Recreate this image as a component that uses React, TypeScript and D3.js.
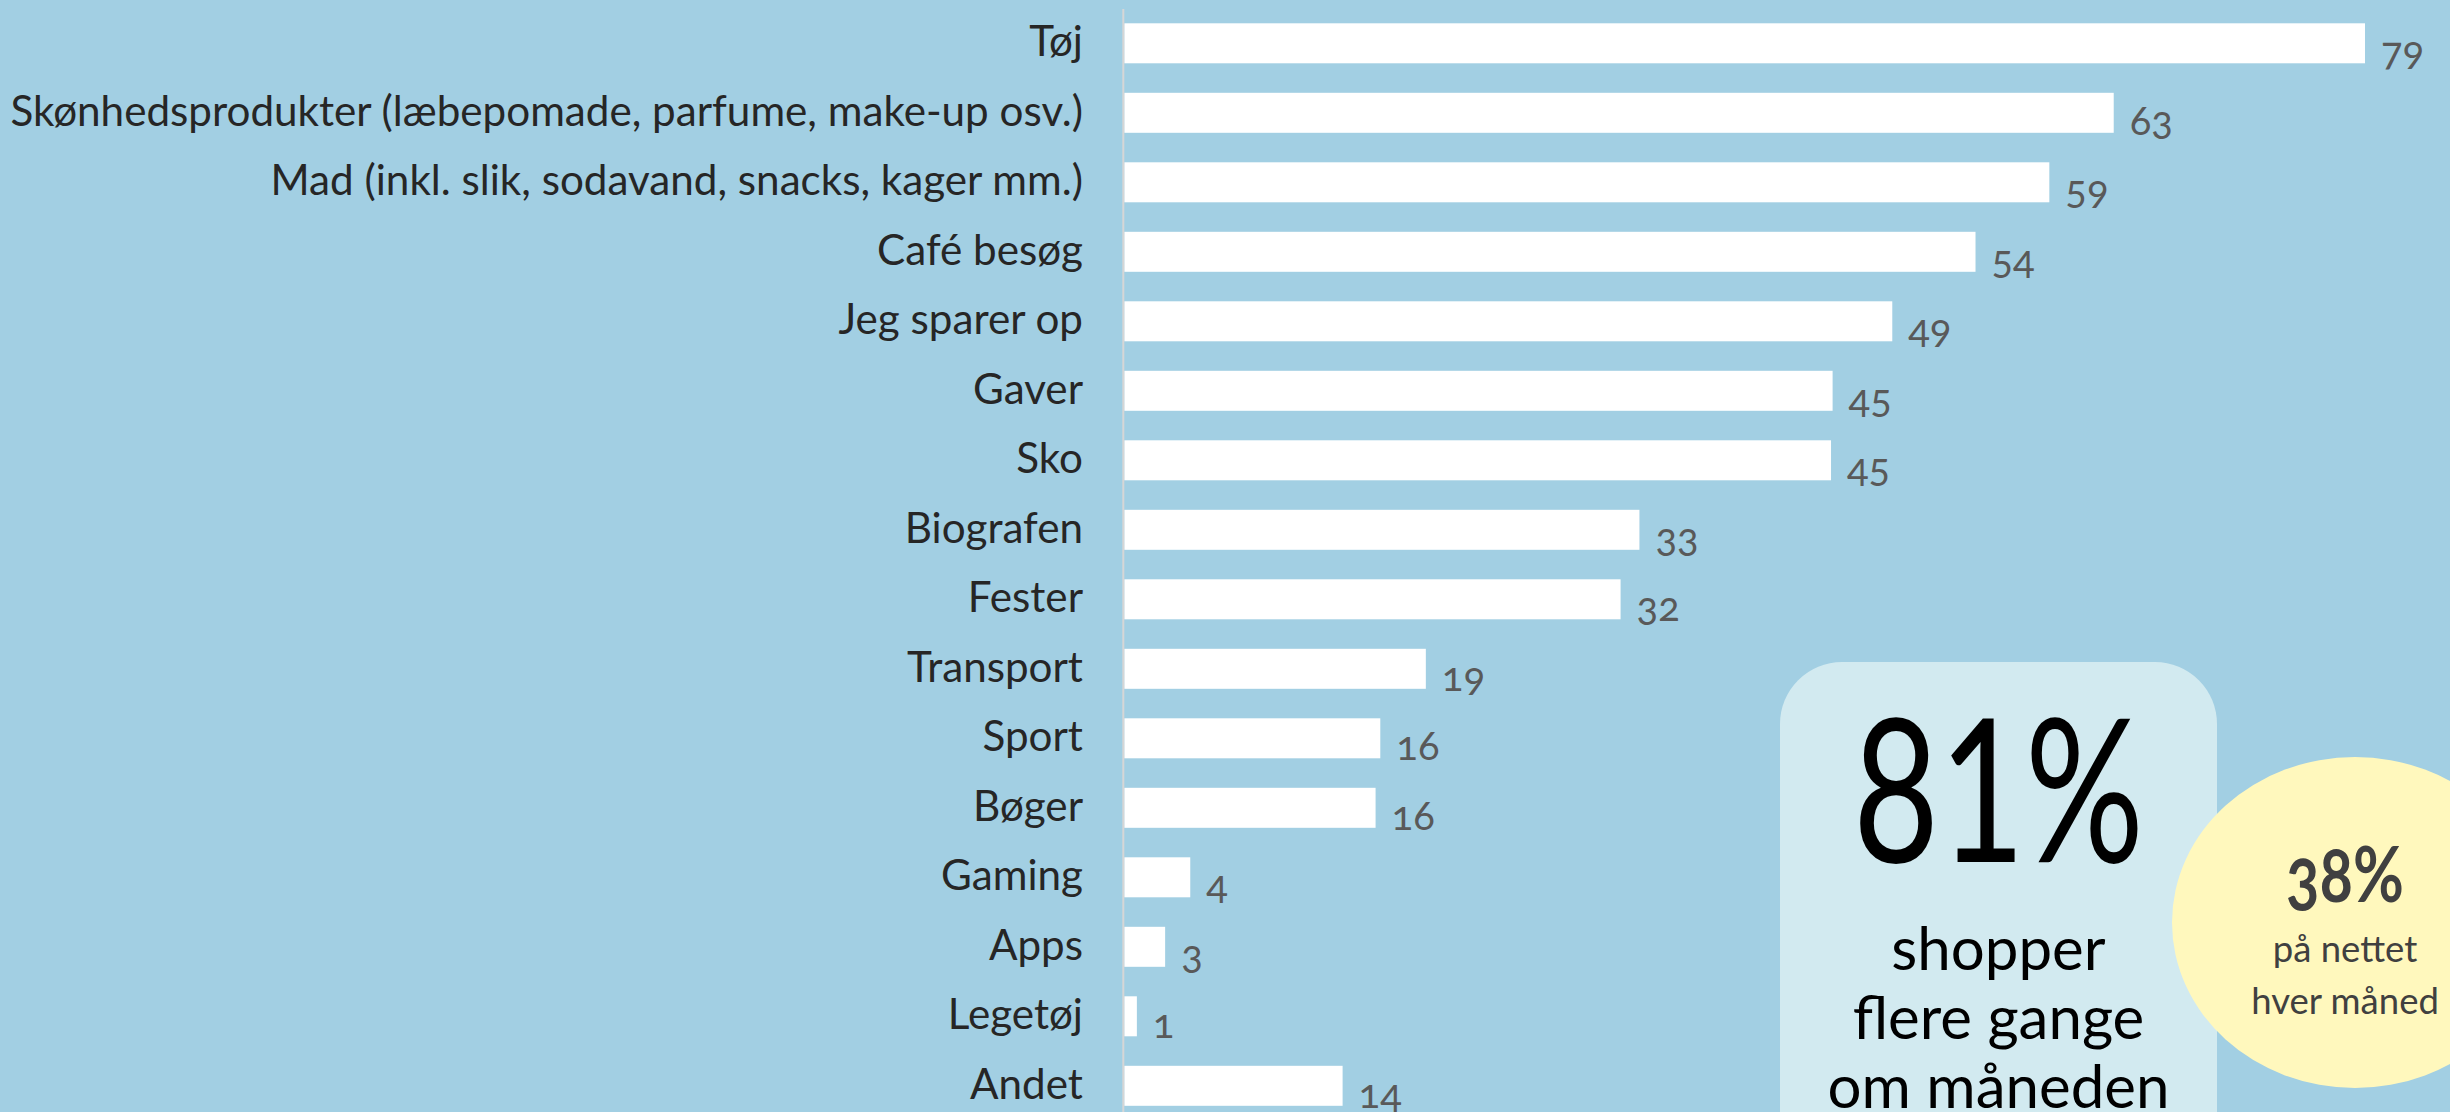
import React from "react";
import * as d3 from "d3";

const categories = [
  "Tøj",
  "Skønhedsprodukter (læbepomade, parfume, make-up osv.)",
  "Mad (inkl. slik, sodavand, snacks, kager mm.)",
  "Café besøg",
  "Jeg sparer op",
  "Gaver",
  "Sko",
  "Biografen",
  "Fester",
  "Transport",
  "Sport",
  "Bøger",
  "Gaming",
  "Apps",
  "Legetøj",
  "Andet",
];
const values = [79, 63, 59, 54, 49, 45, 45, 33, 32, 19, 16, 16, 4, 3, 1, 14];
const barValues = [79, 63, 58.9, 54.2, 48.9, 45.1, 45, 32.8, 31.6, 19.2, 16.3, 16, 4.2, 2.6, 0.8, 13.9];

const bigStat = "81%";
const bigStatLines = ["shopper", "flere gange", "om måneden"];
const smallStat = "38%";
const smallStatLines = ["på nettet", "hver måned"];

const W = 2450;
const H = 1112;
const FONT = "Lato, 'Open Sans', sans-serif";
const ONUM = { fontFeatureSettings: "'onum' 1", fontVariantNumeric: "oldstyle-nums" } as React.CSSProperties;

export default function App() {
  const x = d3.scaleLinear().domain([0, 79]).range([1124.3, 2365]);
  const y = d3
    .scaleBand<string>()
    .domain(categories)
    .range([23.3, 1105.8])
    .paddingInner(0.4245)
    .paddingOuter(0);
  const bw = y.bandwidth();

  return (
    <svg
      width={W}
      height={H}
      style={{ position: "absolute", left: 0, top: 0, display: "block" }}
    >
      <rect x={0} y={0} width={W} height={H} fill="#a2cfe3" />
      {categories.map((c, i) => {
        const yy = y(c)!;
        const cy = yy + bw / 2;
        return (
          <g key={c}>
            <rect
              x={x(0)}
              y={yy}
              width={x(barValues[i]) - x(0)}
              height={bw}
              fill="#ffffff"
            />
            <text
              x={1083}
              y={cy + 13}
              textAnchor="end"
              fontFamily={FONT}
              fontSize={42.2}
              fill="#262626"
            >
              {c}
            </text>
            <text
              x={x(barValues[i]) + 16}
              y={cy + 22}
              fontFamily={FONT}
              fontSize={40}
              fill="#595959"
              style={ONUM}
            >
              {values[i]}
            </text>
          </g>
        );
      })}
      <line x1={1123.3} x2={1123.3} y1={9} y2={H} stroke="#d6d6d6" strokeWidth={2} />

      <rect x={1780} y={662} width={437} height={600} rx={62} ry={62} fill="#d2eaf0" />
      <text
        x={1998.5}
        y={862}
        textAnchor="middle"
        fontFamily={FONT}
        fontWeight={400}
        fontSize={200}
        fill="#000000"
        textLength={291}
        lengthAdjust="spacingAndGlyphs"
      >
        {bigStat}
      </text>
      {bigStatLines.map((l, i) => (
        <text
          key={l}
          x={1998.5}
          y={970 + i * 69}
          textAnchor="middle"
          fontFamily={FONT}
          fontSize={60}
          fill="#000000"
        >
          {l}
        </text>
      ))}

      <ellipse cx={2355} cy={922.5} rx={183} ry={165.5} fill="#fff8bd" />
      <text
        x={2345}
        y={902}
        textAnchor="middle"
        fontFamily={FONT}
        fontWeight={700}
        fontSize={76}
        fill="#404040"
        textLength={118}
        lengthAdjust="spacingAndGlyphs"
        style={ONUM}
      >
        {smallStat}
      </text>
      {smallStatLines.map((l, i) => (
        <text
          key={l}
          x={2345}
          y={962 + i * 52}
          textAnchor="middle"
          fontFamily={FONT}
          fontSize={36.5}
          fill="#404040"
        >
          {l}
        </text>
      ))}
    </svg>
  );
}
